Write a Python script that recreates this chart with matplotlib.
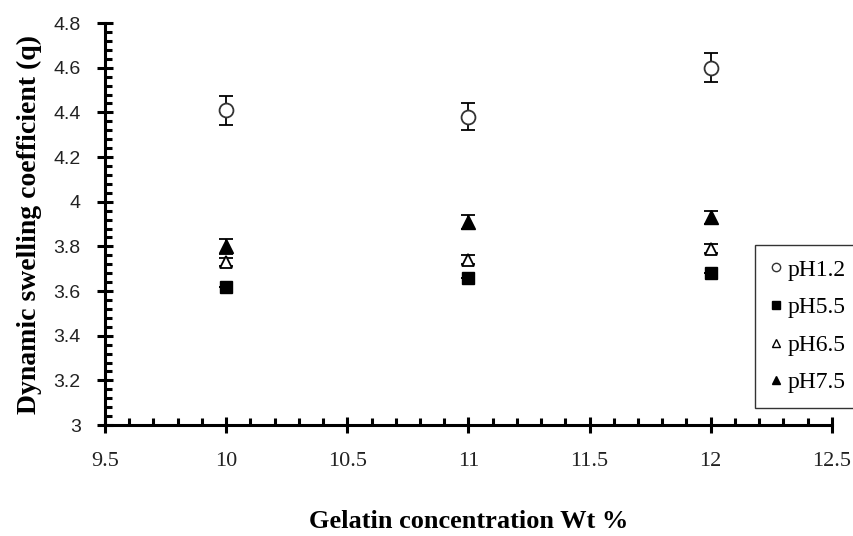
import numpy as np
import matplotlib
matplotlib.use("Agg")
import matplotlib.pyplot as plt
from matplotlib.ticker import MultipleLocator
from matplotlib.lines import Line2D

# ── data ──────────────────────────────────────────────────────────────────────
gelatin = [10, 11, 12]

ph12     = [4.41, 4.38, 4.60]
ph12_err = [0.065, 0.06, 0.065]
ph55     = [3.62, 3.66, 3.68]
ph55_err = [0.0, 0.0, 0.0]
ph65     = [3.73, 3.74, 3.79]
ph65_err = [0.02, 0.02, 0.02]
ph75     = [3.80, 3.91, 3.93]
ph75_err = [0.035, 0.03, 0.03]

series_labels = ["pH1.2", "pH5.5", "pH6.5", "pH7.5"]

# ── figure ────────────────────────────────────────────────────────────────────
fig = plt.figure(figsize=(8.54, 5.36), dpi=100)
ax = fig.add_axes([0.123, 0.207, 0.851, 0.750])

eb = dict(ecolor="black", elinewidth=1.3, capsize=5, capthick=1.3, ls="none")
ax.errorbar(gelatin, ph12, yerr=ph12_err, fmt="o", ms=10, mfc="white",
            mec="#333333", mew=1.3, **eb)
ax.errorbar(gelatin, ph55, yerr=ph55_err, fmt="s", ms=9, mfc="black",
            mec="black", **eb)
ax.errorbar(gelatin, ph65, yerr=ph65_err, fmt="^", ms=9, mfc="white",
            mec="black", mew=1.3, **eb)
ax.errorbar(gelatin, ph75, yerr=ph75_err, fmt="^", ms=10, mfc="black",
            mec="black", **eb)

ax.set_xlim(9.5, 12.5)
ax.set_ylim(3, 4.8)
ax.xaxis.set_minor_locator(MultipleLocator(0.1))
ax.yaxis.set_minor_locator(MultipleLocator(0.04))
ax.set_xticks([9.5, 10, 10.5, 11, 11.5, 12, 12.5])
ax.set_xticklabels(["9.5", "10", "10.5", "11", "11.5", "12", "12.5"])
ax.set_yticks([3, 3.2, 3.4, 3.6, 3.8, 4, 4.2, 4.4, 4.6, 4.8])
ax.set_yticklabels(["3", "3.2", "3.4", "3.6", "3.8", "4", "4.2", "4.4", "4.6", "4.8"])

for s in ["top", "right"]:
    ax.spines[s].set_visible(False)
for s in ["left", "bottom"]:
    ax.spines[s].set_linewidth(2.2)

ax.tick_params(which="major", direction="inout", length=11, width=2.2)
ax.tick_params(which="minor", direction="in", length=5, width=2.2)
ax.tick_params(axis="x", which="major", pad=14)
ax.tick_params(axis="y", which="major", pad=12)

for lab in ax.get_xticklabels():
    lab.set_fontfamily("Liberation Serif")
    lab.set_fontsize(16)
    lab.set_color("#222222")
for lab in ax.get_yticklabels():
    lab.set_fontfamily("Liberation Sans")
    lab.set_fontsize(14)
    lab.set_color("#222222")

ax.set_xlabel("Gelatin concentration Wt %", fontfamily="Liberation Serif",
              fontweight="bold", fontsize=19, labelpad=28)
ax.set_ylabel("Dynamic swelling coefficient (q)", fontfamily="Liberation Serif",
              fontweight="bold", fontsize=20, labelpad=8)

# legend: markers only, box runs past the right edge like the original
handles = [
    Line2D([], [], ls="none", marker="o", ms=6, mfc="white", mec="#333333", mew=1.0),
    Line2D([], [], ls="none", marker="s", ms=6, mfc="black", mec="black"),
    Line2D([], [], ls="none", marker="^", ms=6, mfc="white", mec="black", mew=1.0),
    Line2D([], [], ls="none", marker="^", ms=6, mfc="black", mec="black"),
]
leg = ax.legend(handles, series_labels, loc="upper left",
                bbox_to_anchor=(755 / 854, 1 - 245 / 536),
                bbox_transform=fig.transFigure, frameon=True, fancybox=False,
                edgecolor="black", borderpad=0.6, labelspacing=0.68,
                handlelength=0.6, handletextpad=0.2, borderaxespad=0,
                prop={"family": "Liberation Serif", "size": 17})
leg.get_frame().set_linewidth(1.0)

fig.savefig("out.png", dpi=100)
